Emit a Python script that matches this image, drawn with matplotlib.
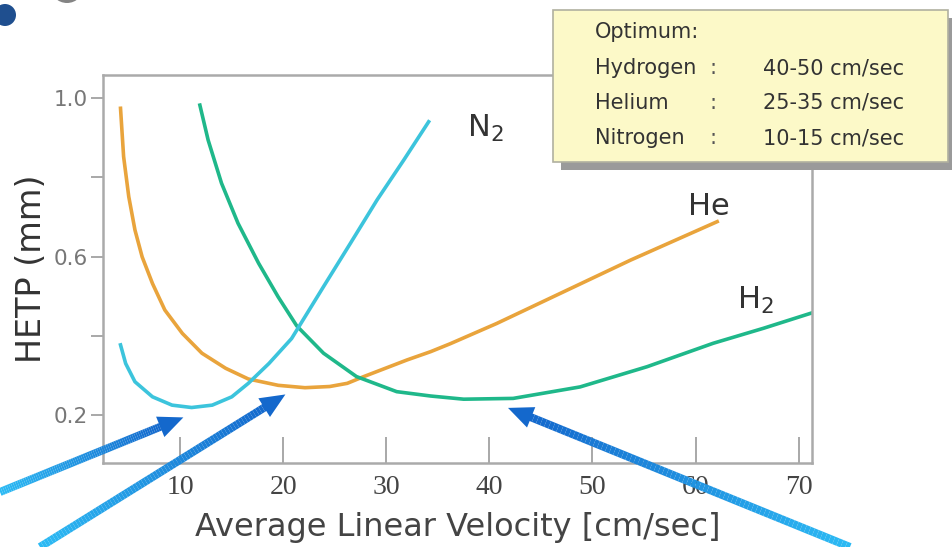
import numpy as np
import matplotlib.pyplot as plt
from matplotlib.collections import LineCollection
from matplotlib.patches import Polygon, Rectangle, Ellipse
import matplotlib.colors as mcolors

# HETP vs. average linear velocity for the three carrier gases
he_x = [4.2, 4.5, 5.0, 5.6, 6.3, 7.3, 8.5, 10.2, 12.1, 14.4, 16.6, 19.5, 22.1, 24.5,
        26.2, 27.8, 32.0, 34.3, 36.2, 40.7, 47.2, 53.7, 62.1]
he_y = [0.974, 0.852, 0.751, 0.667, 0.599, 0.532, 0.465, 0.406, 0.356, 0.318, 0.291,
        0.275, 0.269, 0.272, 0.280, 0.297, 0.339, 0.360, 0.38, 0.431, 0.511, 0.591, 0.688]

h2_x = [11.9, 12.7, 14.0, 15.6, 17.6, 19.5, 21.3, 23.9, 27.1, 31.0, 34.3, 37.5, 42.3,
        48.8, 55.3, 61.7, 66.6, 71.2]
h2_y = [0.982, 0.894, 0.785, 0.684, 0.583, 0.498, 0.425, 0.356, 0.297, 0.259, 0.248,
        0.240, 0.242, 0.271, 0.322, 0.381, 0.419, 0.457]

n2_x = [4.2, 4.7, 5.6, 7.3, 9.2, 11.1, 13.1, 15.0, 16.6, 18.6, 20.8, 23.9, 26.5, 29.1,
        31.7, 34.1]
n2_y = [0.377, 0.330, 0.284, 0.246, 0.225, 0.219, 0.225, 0.246, 0.280, 0.330, 0.393,
        0.524, 0.633, 0.743, 0.844, 0.940]

x_ticks = [10, 20, 30, 40, 50, 60, 70]
y_ticks = [0.2, 0.6, 1.0]
y_minor = [0.4, 0.8]

# arrows: head in data coords, tail in figure pixels from top-left
arrow_heads = [(10.3, 0.194), (20.2, 0.252), (41.8, 0.218)]
arrow_tails = [(0, 492), (40, 547), (850, 547)]

box_rows = [("Hydrogen", "40-50 cm/sec"),
            ("Helium", "25-35 cm/sec"),
            ("Nitrogen", "10-15 cm/sec")]

W, H = 953, 547
fig = plt.figure(figsize=(W / 100, H / 100), dpi=100)
ax = fig.add_axes([103 / W, 1 - 463 / H, (812 - 103) / W, (463 - 75) / H])

ax.plot(he_x, he_y, color='#e9a43c', lw=2.6, solid_joinstyle='round')
ax.plot(h2_x, h2_y, color='#1fb88a', lw=2.6, solid_joinstyle='round')
ax.plot(n2_x, n2_y, color='#3cc4dc', lw=2.6, solid_joinstyle='round')

ax.set_xlim(2.5, 71.3)
ax.set_ylim(0.079, 1.058)

ax.set_xticks(x_ticks)
ax.set_xticklabels([str(t) for t in x_ticks], fontfamily='Liberation Serif',
                   fontsize=20, color='#444444')
ax.tick_params(axis='x', direction='in', length=19, width=1.2, color='#999999', pad=9)

ax.set_yticks(y_ticks)
ax.set_yticklabels(['0.2', '0.6', '1.0'], fontsize=15.5, color='#777777')
ax.set_yticks(y_minor, minor=True)
ax.tick_params(axis='y', which='both', direction='out', length=9, width=1.2,
               color='#999999', pad=2)

for s in ax.spines.values():
    s.set_color('#aaaaaa')
    s.set_linewidth(1.8)

ax.set_xlabel('Average Linear Velocity [cm/sec]', fontsize=23, color='#444444', labelpad=8)
ax.set_ylabel('HETP (mm)', fontsize=24, color='#333333', labelpad=4)

ax.text(37.8, 0.902, 'N$_2$', fontsize=22, color='#333333', va='baseline')
ax.text(59.3, 0.705, 'He', fontsize=22, color='#333333', va='baseline')
ax.text(64.0, 0.469, 'H$_2$', fontsize=22, color='#333333', va='baseline')


def px(x, y):
    return (x / W, 1 - y / H)


# info box with shadow
fig.add_artist(Rectangle(px(561, 170), 395 / W, 152 / H, transform=fig.transFigure,
                         facecolor='#9a9a9a', edgecolor='none', zorder=5))
fig.add_artist(Rectangle(px(553, 162), 395 / W, 152 / H, transform=fig.transFigure,
                         facecolor='#fcf9c8', edgecolor='#b0b0a0', lw=1.2, zorder=6))
fs = 15
fig.text(*px(595, 32), 'Optimum:', fontsize=fs, color='#333333', va='center', zorder=7)
for i, (name, val) in enumerate(box_rows):
    yy = 68 + i * 35
    fig.text(*px(595, yy), name, fontsize=fs, color='#333333', va='center', zorder=7)
    fig.text(*px(710, yy), ':', fontsize=fs, color='#555555', va='center', zorder=7)
    fig.text(*px(763, yy), val, fontsize=fs, color='#333333', va='center', zorder=7)

# decorations top-left
fig.add_artist(Ellipse(px(5, 15), 22 / W, 22 / H, transform=fig.transFigure,
                       facecolor='#1f4f8f', edgecolor='none'))
fig.add_artist(Ellipse(px(67, -14), 34 / W, 34 / H, transform=fig.transFigure,
                       facecolor='#666666', edgecolor='none', alpha=0.8))

# gradient arrows
fig.canvas.draw()
light = np.array(mcolors.to_rgb('#2cbaf4'))
dark = np.array(mcolors.to_rgb('#1468cc'))
inv = fig.transFigure.inverted()
for head, tail in zip(arrow_heads, arrow_tails):
    hx, hy = ax.transData.transform(head)
    tx, ty = fig.transFigure.transform(px(*tail))
    d = np.array([hx - tx, hy - ty])
    u = d / np.hypot(*d)
    n = np.array([-u[1], u[0]])
    head_len, head_w = 25, 11
    base = np.array([hx, hy]) - u * head_len
    t = np.linspace(0, 1, 80)
    pts = np.array([tx, ty]) + np.outer(t, base + u * 2 - np.array([tx, ty]))
    pts_f = inv.transform(pts)
    segs = np.stack([pts_f[:-1], pts_f[1:]], axis=1)
    cols = [light + (dark - light) * v for v in t[:-1]]
    fig.add_artist(LineCollection(segs, colors=cols, linewidths=5.8,
                                  transform=fig.transFigure, capstyle='butt', zorder=8))
    tri = np.array([[hx, hy], base + n * head_w, base - n * head_w])
    fig.add_artist(Polygon(inv.transform(tri), closed=True, transform=fig.transFigure,
                           facecolor=dark, edgecolor='none', zorder=8))

fig.savefig('out.png', dpi=100)
